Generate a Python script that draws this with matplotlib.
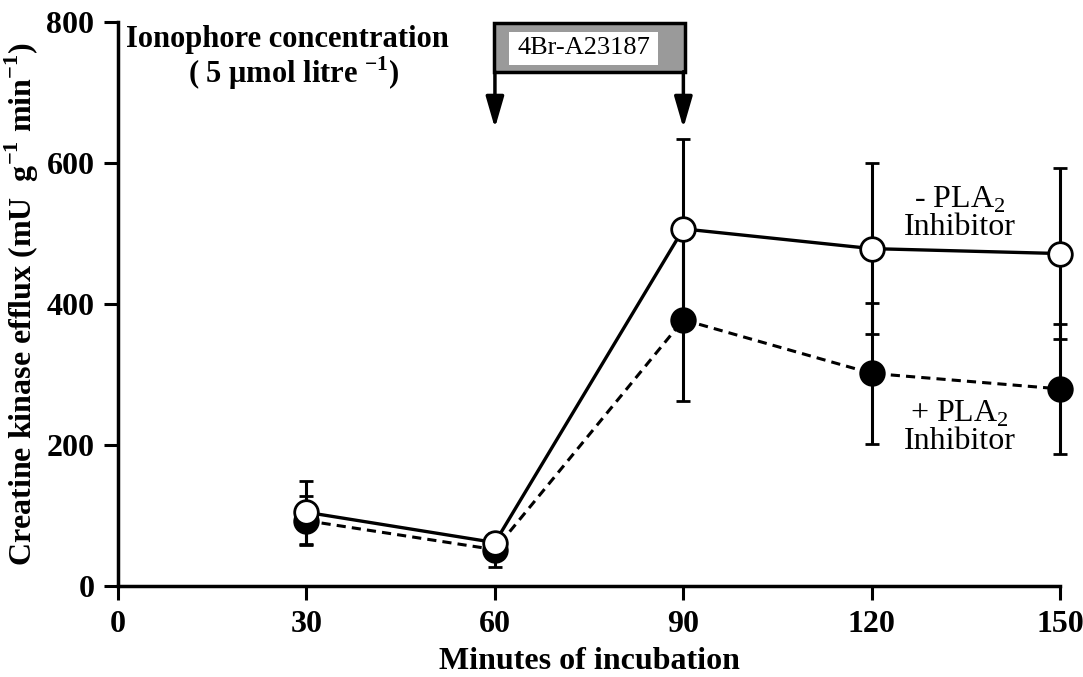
import matplotlib.pyplot as plt
from matplotlib.patches import Rectangle

plt.rcParams["font.family"] = ["Liberation Serif", "DejaVu Serif"]
plt.rcParams["mathtext.fontset"] = "custom"
plt.rcParams["mathtext.rm"] = "Liberation Serif"
plt.rcParams["mathtext.bf"] = "Liberation Serif:bold"

minutes = [30, 60, 90, 120, 150]
no_inhib = [105, 62, 507, 479, 472]
no_inhib_err = [45, 10, 128, 121, 121]
with_inhib = [93, 52, 378, 302, 280]
with_inhib_err = [35, 24, 115, 100, 92]

fig = plt.figure(figsize=(10.83, 6.77), dpi=100)
ax = fig.add_axes([0.109, 0.134, 0.870, 0.833])

eb1 = ax.errorbar(minutes, with_inhib, yerr=with_inhib_err, color="black", lw=2.2, ls=(0, (3, 2)),
                  marker="o", ms=17, mfc="black", mec="black", mew=2, capsize=5, capthick=2.2,
                  elinewidth=2.2, zorder=3)
eb2 = ax.errorbar(minutes, no_inhib, yerr=no_inhib_err, color="black", lw=2.4, ls="-",
                  marker="o", ms=17, mfc="white", mec="black", mew=2, capsize=5, capthick=2.2,
                  elinewidth=2.2, zorder=4)
# let markers at x=150 spill past the axes edge
for eb in (eb1, eb2):
    for art in eb.get_children():
        art.set_clip_on(False)

ax.set_xlim(0, 150)
ax.set_ylim(0, 800)
ax.set_xticks([0, 30, 60, 90, 120, 150])
ax.set_yticks([0, 200, 400, 600, 800])
ax.spines["top"].set_visible(False)
ax.spines["right"].set_visible(False)
ax.spines["left"].set_linewidth(2.5)
ax.spines["bottom"].set_linewidth(2.5)
ax.tick_params(direction="out", length=10, width=2.2, labelsize=23, pad=7)
for lab in ax.get_xticklabels() + ax.get_yticklabels():
    lab.set_fontweight("bold")

ax.set_xlabel("Minutes of incubation", fontsize=23, fontweight="bold", labelpad=6)
ax.set_ylabel(r"Creatine kinase efflux (mU  g$^{\mathbf{-1}}$ min$^{\mathbf{-1}}$)",
              fontsize=23, fontweight="bold", labelpad=4)

# ionophore annotation
ax.text(1.2, 796, "Ionophore concentration", fontsize=22, fontweight="bold", va="top", ha="left")
ax.text(28, 754, r"( 5 $\mathbf{\mu}$mol litre $^{\mathbf{-1}}$)", fontsize=22, fontweight="bold",
        va="top", ha="center")

ax.add_patch(Rectangle((59.8, 729), 30.4, 70, facecolor="#9a9a9a", edgecolor="black", lw=2.5,
                       clip_on=False, zorder=2))
ax.add_patch(Rectangle((62.2, 739), 23.8, 47, facecolor="white", edgecolor="none", zorder=2.5))
ax.text(74.1, 763, "4Br-A23187", fontsize=19, ha="center", va="center", zorder=3)
for xa in (60, 90):
    ax.annotate("", xy=(xa, 650), xytext=(xa, 730),
                arrowprops=dict(arrowstyle="-|>,head_length=1.9,head_width=0.55",
                                color="black", lw=2.5, shrinkA=0, shrinkB=0))

ax.text(134, 529, "- PLA$_2$\nInhibitor", fontsize=23, ha="center", va="center", linespacing=0.9)
ax.text(134, 226, "+ PLA$_2$\nInhibitor", fontsize=23, ha="center", va="center", linespacing=0.9)

fig.savefig("out.png", dpi=100)
